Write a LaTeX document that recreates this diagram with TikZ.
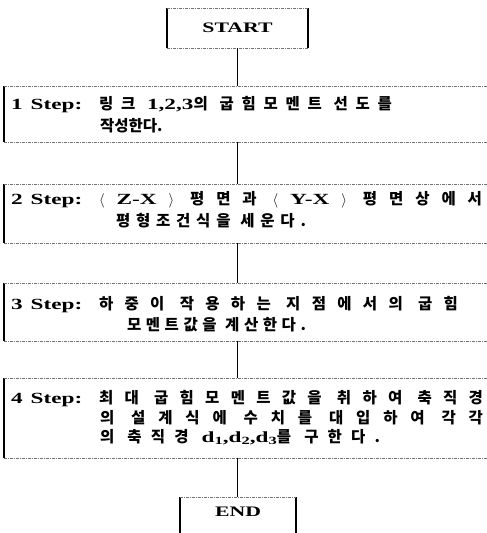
\documentclass[tikz,border=0pt]{standalone}
\usepackage{fontspec}
\setmainfont{Liberation Serif}
\newfontfamily\latf{Liberation Serif}[FakeStretch=1.5]
\newfontfamily\kr{Noto Sans CJK KR}
\newcommand{\W}{\hspace{4pt}}
\newcommand{\LT}[1]{{\latf\bfseries #1}}
\newcommand{\sbs}[1]{\raisebox{-2.5pt}{\fontsize{11}{11}\selectfont #1}}
\begin{document}
\begin{tikzpicture}[x=1pt,y=-1pt,
  frame/.style={rectangle, inner sep=0pt, outer sep=0pt},
  term/.style={frame, font=\latf\bfseries\fontsize{14.5}{14.5}\selectfont},
  stepbox/.style={frame, minimum width=483pt},
  conn/.style={line width=1.8pt},
  side/.style={line width=1.4pt},
  rule/.style={line width=0.5pt, dash pattern=on 3pt off 1pt on 1pt off 1pt, black!55},
  lab/.style={anchor=base west, inner sep=0pt, outer sep=0pt, font=\latf\bfseries\fontsize{15.5}{15.5}\selectfont},
  txt/.style={anchor=base west, inner sep=0pt, outer sep=0pt, font=\kr\bfseries\fontsize{15.5}{15.5}\selectfont}]
\useasboundingbox (0,0) rectangle (487,533);
% boxes
\node[term, minimum width=141pt, minimum height=40pt] (start) at (237.5,28) {START};
\node[stepbox, minimum height=56pt] (b1) at (245.5,114) {};
\node[stepbox, minimum height=59pt] (b2) at (245.5,213.5) {};
\node[stepbox, minimum height=58pt] (b3) at (245.5,312) {};
\node[stepbox, minimum height=80pt] (b4) at (245.5,418) {};
\node[term, minimum width=116pt, minimum height=43pt] (end) at (238,518.5) {};
\node[term] (endtxt) at (238,512) {END};
% frames
\foreach \b in {start,end}{
  \draw[side] (\b.north west) -- (\b.south west);
  \draw[side] (\b.north east) -- (\b.south east);
  \draw[rule] (\b.north west) -- (\b.north east);
  \draw[rule] (\b.south west) -- (\b.south east);
}
\foreach \b in {b1,b2,b3,b4}{
  \draw[side] (\b.north west) -- (\b.south west);
  \draw[rule] (\b.north west) -- (\b.north east);
  \draw[rule] (\b.south west) -- (\b.south east);
}
% connectors
\draw[conn] (start.south) -- (b1.north -| start.south);
\draw[conn] (b1.south -| start.south) -- (b2.north -| start.south);
\draw[conn] (b2.south -| start.south) -- (b3.north -| start.south);
\draw[conn] (b3.south -| start.south) -- (b4.north -| start.south);
\draw[conn] (b4.south -| start.south) -- (end.north -| start.south);
% step 1
\node[lab] (l1) at (11,109) {1\hspace{8pt}Step:};
\node[txt] (t11) at (99,109) {\makebox[293pt][s]{링 크 \W \LT{1,2,3}의 \W 굽 힘 모 멘 트 \W 선 도 를}};
\node[txt] (t12) at (100,131) {작성한다.};
% step 2
\node[lab] (l2) at (11,204) {2\hspace{8pt}Step:};
\node[txt] (t21) at (99,204) {\makebox[383pt][s]{\LT{$\langle$} \LT{Z-X} \LT{$\rangle$} \W 평 면 과 \W \LT{$\langle$} \LT{Y-X} \LT{$\rangle$} \W 평 면 상 에 서}};
\node[txt] (t22) at (116,226) {\makebox[190pt][s]{평 형 조 건 식 을 \W 세 운 다 .}};
% step 3
\node[lab] (l3) at (11,309) {3\hspace{8pt}Step:};
\node[txt] (t31) at (99,309) {\makebox[359pt][s]{하 중 이 \W 작 용 하 는 \W 지 점 에 서 의 \W 굽 힘}};
\node[txt] (t32) at (127,330) {\makebox[179pt][s]{모 멘 트 값 을 \W 계 산 한 다 .}};
% step 4
\node[lab] (l4) at (11,403) {4\hspace{8pt}Step:};
\node[txt] (t41) at (99,403) {\makebox[384pt][s]{최 대 \W 굽 힘 모 멘 트 값 을 \W 취 하 여 \W 축 직 경}};
\node[txt] (t42) at (100,423) {\makebox[383pt][s]{의 \W 설 계 식 에 \W 수 치 를 \W 대 입 하 여 \W 각 각}};
\node[txt] (t43) at (100,442) {\makebox[280pt][s]{의 \W 축 직 경 \W \LT{d\sbs{1},d\sbs{2},d\sbs{3}}를 \W 구 한 다 .}};
\end{tikzpicture}
\end{document}
